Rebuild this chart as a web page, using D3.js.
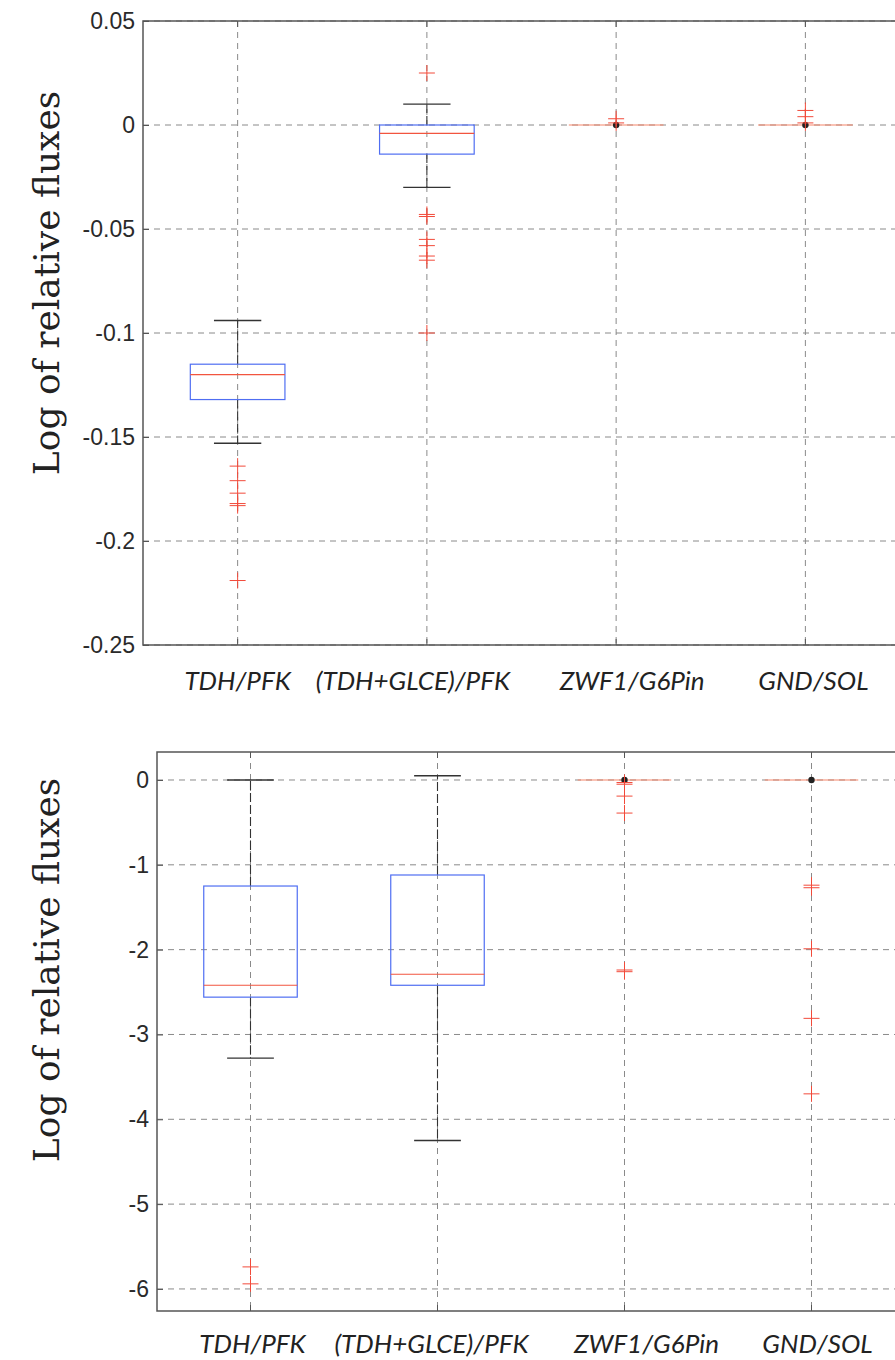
<!DOCTYPE html>
<html>
<head>
<meta charset="utf-8">
<script src="https://cdn.jsdelivr.net/npm/d3@7"></script>
<style>
  html, body { margin: 0; padding: 0; background: #fff; }
  svg { display: block; }
</style>
</head>
<body>
<svg id="chart" width="895" height="1360"></svg>
<script>
// Ratio categories shared by both panels
const categories = ["TDH/PFK", "(TDH+GLCE)/PFK", "ZWF1/G6Pin", "GND/SOL"];

// Upper panel: box-plot statistics (log of relative fluxes)
const upperWhiskerHigh = [-0.094, 0.010, 0, 0];
const upperQ3          = [-0.115, 0.000, 0, 0];
const upperMedian      = [-0.120, -0.004, 0, 0];
const upperQ1          = [-0.132, -0.014, 0, 0];
const upperWhiskerLow  = [-0.153, -0.030, 0, 0];
const upperOutliers = [
  [-0.164, -0.171, -0.177, -0.182, -0.183, -0.219],
  [0.025, -0.043, -0.044, -0.055, -0.058, -0.063, -0.065, -0.100],
  [0.003, 0.001],
  [0.007, 0.004, 0.001]
];
const upperTicks = [0.05, 0, -0.05, -0.1, -0.15, -0.2, -0.25];

// Lower panel: box-plot statistics
const lowerWhiskerHigh = [0, 0.05, 0, 0];
const lowerQ3          = [-1.25, -1.12, 0, 0];
const lowerMedian      = [-2.42, -2.29, 0, 0];
const lowerQ1          = [-2.56, -2.42, 0, 0];
const lowerWhiskerLow  = [-3.28, -4.25, 0, 0];
const lowerOutliers = [
  [-5.74, -5.94],
  [],
  [-0.03, -0.05, -0.19, -0.39, -2.24, -2.26],
  [-1.24, -1.27, -1.99, -2.81, -3.70]
];
const lowerTicks = [0, -1, -2, -3, -4, -5, -6];

const yTitle = "Log of relative fluxes";

// Layout of the two panels
const panels = [
  {
    left: 143, right: 900, top: 21, bottom: 645,
    yDomain: [-0.25, 0.05], ticks: upperTicks,
    hi: upperWhiskerHigh, q3: upperQ3, med: upperMedian, q1: upperQ1, lo: upperWhiskerLow,
    out: upperOutliers, labelY: 690, titleY: 283,
    labelNudge: [0, -14, 16, 8]
  },
  {
    left: 157, right: 905, top: 752, bottom: 1311,
    yDomain: [-6.26, 0.33], ticks: lowerTicks,
    hi: lowerWhiskerHigh, q3: lowerQ3, med: lowerMedian, q1: lowerQ1, lo: lowerWhiskerLow,
    out: lowerOutliers, labelY: 1353, titleY: 970,
    labelNudge: [2, -6, 22, 6]
  }
];

const svg = d3.select("#chart");
svg.append("rect").attr("width", 895).attr("height", 1360).attr("fill", "#fff");

const fmt = d => String(+d.toFixed(2));

panels.forEach(p => {
  const g = svg.append("g");
  const x = d3.scaleBand().domain(categories).range([p.left, p.right]).paddingInner(0).paddingOuter(0);
  const y = d3.scaleLinear().domain(p.yDomain).range([p.bottom, p.top]);
  const bw = x.bandwidth() * 0.5;
  const cx = c => x(c) + x.bandwidth() / 2;

  // dashed grid
  const grid = g.append("g").attr("class", "grid");
  grid.selectAll("line.h").data(p.ticks).join("line")
    .attr("x1", p.left).attr("x2", p.right)
    .attr("y1", d => y(d)).attr("y2", d => y(d))
    .attr("stroke", "#8a8a8a").attr("stroke-width", 1).attr("stroke-dasharray", "6,5");
  grid.selectAll("line.v").data(categories).join("line")
    .attr("x1", d => cx(d)).attr("x2", d => cx(d))
    .attr("y1", p.top).attr("y2", p.bottom)
    .attr("stroke", "#8a8a8a").attr("stroke-width", 1).attr("stroke-dasharray", "6,5");

  // boxes
  categories.forEach((c, i) => {
    const bg = g.append("g").attr("class", "box");
    const xc = cx(c);
    const collapsed = p.q1[i] === p.q3[i];
    // whiskers
    if (!collapsed) {
      bg.append("line").attr("x1", xc).attr("x2", xc)
        .attr("y1", y(p.q3[i])).attr("y2", y(p.hi[i]))
        .attr("stroke", "#333").attr("stroke-width", 1.1).attr("stroke-dasharray", "9,3");
      bg.append("line").attr("x1", xc).attr("x2", xc)
        .attr("y1", y(p.q1[i])).attr("y2", y(p.lo[i]))
        .attr("stroke", "#333").attr("stroke-width", 1.1).attr("stroke-dasharray", "9,3");
      [p.hi[i], p.lo[i]].forEach(v => {
        bg.append("line").attr("x1", xc - bw / 4).attr("x2", xc + bw / 4)
          .attr("y1", y(v)).attr("y2", y(v))
          .attr("stroke", "#333").attr("stroke-width", 1.3);
      });
      // box
      bg.append("rect").attr("x", xc - bw / 2).attr("width", bw)
        .attr("y", y(p.q3[i])).attr("height", y(p.q1[i]) - y(p.q3[i]))
        .attr("fill", "none").attr("stroke", "#4f6ef2").attr("stroke-width", 1.2);
    }
    // median
    bg.append("line").attr("x1", xc - bw / 2).attr("x2", xc + bw / 2)
      .attr("y1", y(p.med[i])).attr("y2", y(p.med[i]))
      .attr("stroke", collapsed ? "#f5866a" : "#f2553f").attr("stroke-width", 1.2);
    // collapsed box marker
    if (collapsed) {
      bg.append("circle").attr("cx", xc).attr("cy", y(p.med[i])).attr("r", 3.2).attr("fill", "#222");
    }
    // outliers
    bg.selectAll("path").data(p.out[i]).join("path")
      .attr("d", "M-8,0H8M0,-8V8")
      .attr("transform", d => `translate(${xc},${y(d)})`)
      .attr("stroke", "#f24a3a").attr("stroke-width", 1).attr("fill", "none");
  });

  // axes
  const yAxis = d3.axisLeft(y).tickValues(p.ticks).tickFormat(fmt)
    .tickSizeInner(-6).tickSizeOuter(0).tickPadding(8);
  const ya = g.append("g").attr("transform", `translate(${p.left},0)`).call(yAxis);
  ya.select(".domain").remove();
  ya.selectAll(".tick line").attr("stroke", "#555");
  ya.selectAll(".tick text").attr("font-family", "'Liberation Sans', Arial, sans-serif")
    .attr("font-size", 23).attr("fill", "#2a2a2a");

  const xAxis = d3.axisBottom(x).tickSizeInner(-6).tickSizeOuter(0).tickFormat("");
  const xa = g.append("g").attr("transform", `translate(0,${p.bottom})`).call(xAxis);
  xa.select(".domain").remove();
  xa.selectAll(".tick line").attr("stroke", "#555");
  const xTop = d3.axisTop(x).tickSizeInner(-6).tickSizeOuter(0).tickFormat("");
  const xt = g.append("g").attr("transform", `translate(0,${p.top})`).call(xTop);
  xt.select(".domain").remove();
  xt.selectAll(".tick line").attr("stroke", "#555");

  // frame
  g.append("rect").attr("x", p.left).attr("y", p.top)
    .attr("width", p.right - p.left).attr("height", p.bottom - p.top)
    .attr("fill", "none").attr("stroke", "#555").attr("stroke-width", 1.5);

  // category labels
  g.selectAll("text.cat").data(categories).join("text")
    .attr("class", "cat")
    .attr("x", (d, i) => cx(d) + p.labelNudge[i]).attr("y", p.labelY)
    .attr("text-anchor", "middle")
    .attr("font-family", "Lato, 'Open Sans', sans-serif").attr("font-style", "italic")
    .attr("font-size", 26).attr("fill", "#222")
    .text(d => d);

  // axis title
  g.append("text")
    .attr("transform", `translate(59,${p.titleY}) rotate(-90)`)
    .attr("text-anchor", "middle")
    .attr("font-family", "'DejaVu Serif', serif")
    .attr("font-size", 36).attr("fill", "#222")
    .text(yTitle);
});
</script>
</body>
</html>
